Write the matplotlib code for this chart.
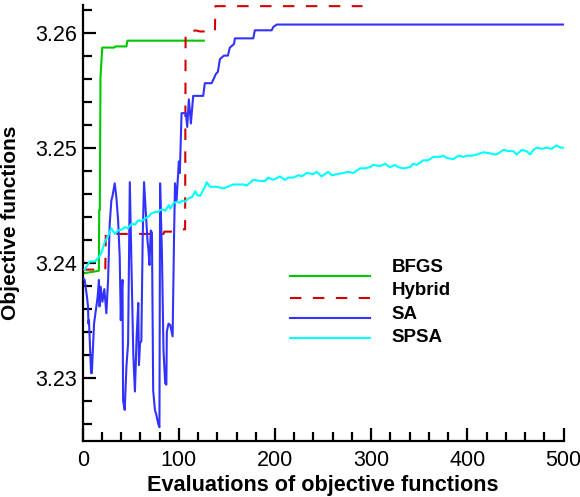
import matplotlib
matplotlib.use("Agg")
import matplotlib.pyplot as plt
from matplotlib.ticker import MultipleLocator, FixedLocator
from matplotlib.lines import Line2D

plt.rcParams['font.family'] = ['Liberation Sans', 'DejaVu Sans']

# ---------------- data ----------------
bfgs_x = [2, 10, 16.8, 17.2, 17.8, 18.5, 20.3, 33, 34, 45.5, 46.5, 126]
bfgs_y = [3.2391, 3.2392, 3.2393, 3.2446, 3.2446, 3.2561, 3.2587, 3.2587, 3.2588, 3.2588, 3.2593, 3.2593]

hybrid_x = [0, 23.5, 24, 84, 85, 100, 104, 106.5, 107, 112, 117, 122, 137.5, 138, 291]
hybrid_y = [3.2394, 3.2394, 3.2425, 3.2425, 3.2427, 3.2427, 3.2429, 3.2429, 3.2599, 3.2600, 3.2602, 3.2601, 3.2601, 3.2623, 3.2623]

sa_x = [1, 2, 4.5, 5.5, 6, 6.5, 8.7, 9.5, 11.8, 14.2, 15.5, 16.9, 17.5, 18.7, 20.5, 22.5,
        24.6, 26.4, 28.1, 29.8, 31, 33.3, 35, 36.8, 38.5, 39.6, 40.5, 41.4, 42, 43.7, 45.5,
        47.2, 49, 50.8, 52.6, 54.3, 56.1, 57.8, 58.5, 59.6, 61, 62.4, 63.8, 65.9, 67.3, 68.4,
        69.4, 70.8, 72, 73.3, 75.1, 76.5, 78.5, 79.8, 80.5, 82.4, 84, 85.8, 87, 87.5, 89.2,
        91, 93.5, 95, 96, 97.6, 100, 101, 102.8, 107.3, 108.7, 110.4, 112.5, 114.9, 125.3,
        127, 134, 135.8, 138.5, 140.6, 142.7, 146.9, 151, 153, 157.3, 158.3, 177.4, 179,
        182.6, 196.5, 198.3, 201.8, 500]
sa_y = [3.2386, 3.2385, 3.2370, 3.2362, 3.2347, 3.2350, 3.2304, 3.2304, 3.2347, 3.2362,
        3.2370, 3.2385, 3.2362, 3.2379, 3.2366, 3.2377, 3.2356, 3.2385, 3.2434, 3.2454,
        3.2458, 3.2469, 3.2457, 3.2437, 3.2405, 3.2350, 3.2375, 3.2385, 3.2280, 3.2272,
        3.2310, 3.2330, 3.2470, 3.2394, 3.2321, 3.2288, 3.2336, 3.2365, 3.2311, 3.2330,
        3.2332, 3.2423, 3.2470, 3.2440, 3.2420, 3.2411, 3.2398, 3.2428, 3.2426, 3.2289,
        3.2272, 3.2268, 3.2260, 3.2257, 3.2469, 3.2408, 3.2324, 3.2295, 3.2294, 3.2340,
        3.2347, 3.2346, 3.2336, 3.2423, 3.2469, 3.2454, 3.2488, 3.2478, 3.2530, 3.2530,
        3.2518, 3.2542, 3.2521, 3.2545, 3.2545, 3.2556, 3.2556, 3.2559, 3.2564, 3.2566,
        3.2577, 3.2580, 3.2580, 3.2587, 3.2590, 3.2595, 3.2595, 3.2602, 3.2602, 3.2602,
        3.2605, 3.2607, 3.2607]

spsa_x = [2.1, 7.3, 12.8, 15.9, 19.3, 22.9, 26.3, 29.7, 33.3, 36.7, 41.4, 44, 47, 51, 54.4,
          57.8, 61.4, 64.8, 68.2, 71.8, 75.2, 78.6, 80.7, 84.2, 85.9, 89.4, 91.1, 94.6, 98.1,
          100.9, 103.3, 106.4, 110.2, 113.7, 117.1, 118.9, 122, 127.2, 128.9, 132.4, 139.4,
          146.2, 156.6, 167, 170.5, 177.4, 184.4, 189.6, 193, 198.2, 205.2, 210.4, 213.8, 219,
          224.2, 227.7, 233, 239.8, 243.4, 248.5, 255.4, 258.9, 271, 276.2, 281.4, 288.4,
          293.6, 298.8, 302.2, 309.2, 314.4, 319.6, 324.8, 328.2, 333.4, 340.4, 343.8, 347.3,
          354.2, 359.4, 364.6, 371.6, 375, 378.5, 385.4, 390.6, 395.8, 399.3, 404.5, 409.7,
          416.6, 423.6, 428.8, 432.2, 437.4, 442.6, 447.8, 451.3, 456.5, 461.7, 465.2, 468.6,
          472.1, 477.3, 482.5, 487.7, 492.9, 496.4, 499.8]
spsa_y = [3.2394, 3.2401, 3.2401, 3.2404, 3.2408, 3.2418, 3.2423, 3.2430, 3.2425, 3.2428,
          3.2429, 3.2431, 3.2430, 3.2434, 3.2433, 3.2437, 3.2436, 3.24385, 3.2440, 3.2443,
          3.2444, 3.2444, 3.2446, 3.2446, 3.2445, 3.2450, 3.2447, 3.2452, 3.2453, 3.2452,
          3.2454, 3.2453, 3.2456, 3.2457, 3.2462, 3.2459, 3.2458, 3.2466, 3.2470, 3.2466,
          3.2466, 3.24645, 3.2468, 3.2468, 3.2467, 3.2472, 3.2471, 3.2471, 3.2474, 3.2472,
          3.2475, 3.2472, 3.2474, 3.2474, 3.2476, 3.2475, 3.2478, 3.2477, 3.2479, 3.2475,
          3.2479, 3.2476, 3.2478, 3.2479, 3.2478, 3.2482, 3.2482, 3.2483, 3.2485, 3.2484,
          3.2486, 3.2483, 3.2485, 3.2483, 3.2482, 3.2483, 3.2486, 3.2485, 3.2489, 3.2489,
          3.2492, 3.2492, 3.2493, 3.2491, 3.2490, 3.2493, 3.2492, 3.2493, 3.2493, 3.2494,
          3.2496, 3.2495, 3.2494, 3.2495, 3.2498, 3.2497, 3.2497, 3.2494, 3.2498, 3.2497,
          3.2494, 3.2498, 3.2500, 3.2499, 3.2500, 3.2499, 3.2502, 3.2500, 3.2500]

series_names = ['BFGS', 'Hybrid', 'SA', 'SPSA']
xticks = [0, 100, 200, 300, 400, 500]
yticks = [3.23, 3.24, 3.25, 3.26]
ytick_labels = ['3.23', '3.24', '3.25', '3.26']

# ---------------- figure ----------------
W, H = 580, 497
fig = plt.figure(figsize=(W / 100, H / 100), dpi=100)
ax_l, ax_r, ax_t, ax_b = 82.7, 563.5, 5, 441
ax = fig.add_axes([ax_l / W, 1 - ax_b / H, (ax_r - ax_l) / W, (ax_b - ax_t) / H])

c_green = '#00c800'
c_red = '#d20000'
c_blue = '#3232ff'
c_cyan = '#00ffff'
lw = 1.5

ax.plot(bfgs_x, bfgs_y, color=c_green, lw=lw, zorder=2)
ax.plot(hybrid_x, hybrid_y, color=c_red, lw=lw, dashes=(5.5, 5.5), zorder=3)
ax.plot(sa_x, sa_y, color=c_blue, lw=lw, zorder=4)
ax.plot(spsa_x, spsa_y, color=c_cyan, lw=lw, zorder=5)

ax.set_xlim(0, 500)
ax.set_ylim(3.2245, 3.2624)

for s in ['top', 'right']:
    ax.spines[s].set_visible(False)
for s in ['left', 'bottom']:
    ax.spines[s].set_linewidth(1.6)

ax.xaxis.set_major_locator(FixedLocator(xticks))
ax.xaxis.set_minor_locator(MultipleLocator(20))
ax.yaxis.set_major_locator(FixedLocator(yticks))
ax.set_yticklabels(ytick_labels)
ax.yaxis.set_minor_locator(MultipleLocator(0.002))

ax.tick_params(which='both', direction='in', width=1.6, labelsize=15.5)
ax.tick_params(which='major', length=9.5)
ax.tick_params(which='minor', length=6.3)
ax.tick_params(axis='y', pad=4)
ax.tick_params(axis='x', pad=6.5)

ax.set_xlabel('Evaluations of objective functions', fontsize=15.6, fontweight='bold', labelpad=3)
ax.set_ylabel('Objective functions', fontsize=15, fontweight='bold', labelpad=11)

# legend (drawn manually, Tecplot style)
leg_line_y = [275.7, 297.7, 317.7, 337.7]
leg_text_y = [267.5, 290.8, 314.7, 338.0]
leg_colors = [c_green, c_red, c_blue, c_cyan]
for i, name in enumerate(series_names):
    yy = 1 - leg_line_y[i] / H
    kw = dict(dashes=(5.5, 5.5)) if name == 'Hybrid' else {}
    fig.add_artist(Line2D([290 / W, 370 / W], [yy, yy], color=leg_colors[i], lw=lw, **kw))
    fig.text(391.7 / W, 1 - leg_text_y[i] / H, name, fontsize=13.5, fontweight='bold',
             ha='left', va='center')

fig.savefig('out.png', dpi=100)
